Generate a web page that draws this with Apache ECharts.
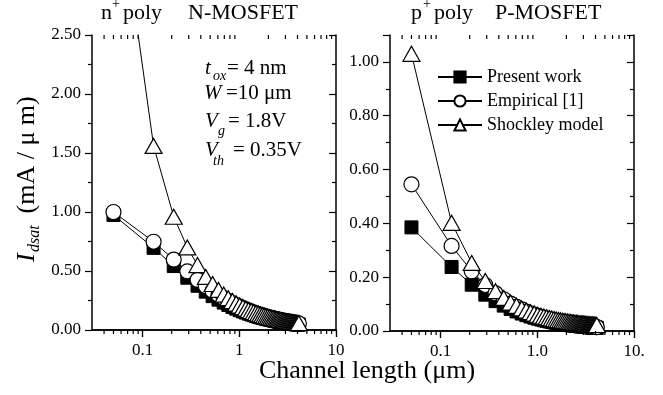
<!DOCTYPE html>
<html><head><meta charset="utf-8">
<script src="https://cdn.jsdelivr.net/npm/echarts@6/dist/echarts.min.js"></script>
<style>html,body{margin:0;padding:0;background:#fff}#c{width:663px;height:395px}</style>
</head><body><div id="c"></div>
<script>
// Channel lengths (µm)
const lengths = [0.05,0.13,0.21,0.29,0.37,0.45,0.53,0.61,0.69,0.77,0.85,0.93,1.01,1.09,1.17,1.25,1.33,1.41,1.49,1.57,1.65,1.73,1.81,1.89,1.97,2.05,2.13,2.21,2.29,2.37,2.45,2.53,2.61,2.69,2.77,2.85,2.93,3.01,3.09,3.17,3.25,3.33,3.41,3.49,3.57,3.65,3.73,3.81,3.89,3.97,4.05,4.13];
// N-MOSFET (mA/µm)
const nPresent = [0.975,0.696,0.542,0.443,0.375,0.325,0.287,0.257,0.232,0.212,0.195,0.181,0.168,0.157,0.148,0.139,0.132,0.125,0.119,0.113,0.108,0.104,0.0995,0.0956,0.092,0.0886,0.0855,0.0826,0.0799,0.0774,0.075,0.0728,0.0707,0.0687,0.0668,0.065,0.0633,0.0617,0.0602,0.0587,0.0574,0.056,0.0548,0.0536,0.0524,0.0513,0.0503,0.0492,0.0483,0.0473,0.0464,0.0456];
const nEmpirical = [1.0,0.748,0.597,0.497,0.425,0.372,0.331,0.297,0.27,0.248,0.229,0.212,0.198,0.186,0.175,0.165,0.156,0.148,0.141,0.135,0.129,0.124,0.119,0.114,0.11,0.106,0.102,0.0988,0.0957,0.0927,0.0898,0.0872,0.0847,0.0824,0.0801,0.078,0.076,0.0743,0.0723,0.0706,0.069,0.0674,0.0659,0.0645,0.0631,0.0618,0.0605,0.0593,0.0581,0.057,0.0559,0.0549];
const nShockley = [4.01,1.56,0.96,0.70,0.55,0.45,0.39,0.34,0.30,0.27,0.245,0.225,0.208,0.193,0.181,0.17,0.16,0.152,0.144,0.137,0.131,0.126,0.12,0.116,0.112,0.108,0.104,0.1,0.097,0.094,0.092,0.089,0.087,0.084,0.082,0.08,0.078,0.076,0.075,0.073,0.072,0.07,0.069,0.067,0.066,0.065,0.064,0.062,0.061,0.06,0.059,0.058];
// P-MOSFET (mA/µm)
const pPresent = [0.385,0.238,0.172,0.135,0.111,0.0943,0.082,0.0725,0.0649,0.0588,0.0538,0.0495,0.0459,0.0427,0.04,0.0376,0.0355,0.0336,0.0318,0.0303,0.0289,0.0276,0.0265,0.0254,0.0244,0.0235,0.0226,0.0218,0.0211,0.0204,0.0198,0.0192,0.0186,0.0181,0.0175,0.0171,0.0166,0.0162,0.0158,0.0154,0.015,0.0147,0.0143,0.014,0.0137,0.0134,0.0131,0.0129,0.0126,0.0124,0.0121,0.0119];
const pEmpirical = [0.545,0.316,0.222,0.171,0.14,0.118,0.102,0.0896,0.08,0.0723,0.0659,0.0606,0.0561,0.0522,0.0488,0.0458,0.0432,0.0408,0.0387,0.0368,0.0351,0.0335,0.0321,0.0308,0.0296,0.0284,0.0274,0.0264,0.0255,0.0247,0.0239,0.0232,0.0225,0.0218,0.0212,0.0206,0.0201,0.0195,0.019,0.0186,0.0181,0.0177,0.0173,0.0169,0.0165,0.0162,0.0158,0.0155,0.0152,0.0149,0.0146,0.0143];
const pShockley = [1.03,0.402,0.253,0.186,0.148,0.123,0.106,0.0936,0.0839,0.0762,0.07,0.0648,0.0605,0.0568,0.0536,0.0508,0.0483,0.0462,0.0442,0.0425,0.0409,0.0395,0.0382,0.037,0.0359,0.0349,0.0339,0.0331,0.0323,0.0315,0.0308,0.0302,0.0295,0.029,0.0284,0.0279,0.0274,0.0269,0.0265,0.0261,0.0257,0.0253,0.025,0.0246,0.0243,0.024,0.0237,0.0234,0.0231,0.0228,0.0226,0.0223];
// Axis ticks
const xMajorTicks = [0.1, 1, 10];
const xMinorTicks = [0.04,0.05,0.06,0.07,0.08,0.09,0.2,0.3,0.4,0.5,0.6,0.7,0.8,0.9,2,3,4,5,6,7,8,9];
const nXLabels = ['0.1', '1', '10'];
const pXLabels = ['0.1', '1.0', '10.'];
const seriesNames = ['Present work', 'Empirical [1]', 'Shockley model'];

const FONT = '"Liberation Serif", "Times New Roman", serif';
const black = '#000';

function xAxesFor(gridIndex, labels) {
  const base = { type: 'log', logBase: 10, min: 0.03, max: 10, gridIndex: gridIndex, splitLine: { show: false },
    axisLine: { show: true, lineStyle: { color: black, width: 1.5 } } };
  return [
    Object.assign({}, base, {
      position: 'bottom',
      axisTick: { show: true, customValues: xMajorTicks, length: 7, inside: false, lineStyle: { color: black, width: 1.2 } },
      axisLabel: { show: true, customValues: xMajorTicks, margin: 12, color: black, fontFamily: FONT, fontSize: 17,
        formatter: function (v) { const i = xMajorTicks.findIndex(t => Math.abs(t - v) < 1e-9); return i >= 0 ? labels[i] : ''; } }
    }),
    Object.assign({}, base, {
      position: 'top',
      axisTick: { show: true, customValues: xMajorTicks, length: 7, inside: true, lineStyle: { color: black, width: 1.2 } },
      axisLabel: { show: false, customValues: xMajorTicks }
    })
  ];
}

function yAxesFor(gridIndex, max, interval, showMax) {
  return [
    { type: 'value', gridIndex: gridIndex, min: 0, max: max, interval: interval, position: 'left',
      splitLine: { show: false },
      axisLine: { show: true, lineStyle: { color: black, width: 1.5 } },
      axisTick: { show: true, length: 7, inside: false, lineStyle: { color: black, width: 1.2 } },
      minorTick: { show: true, splitNumber: 2, length: 4, lineStyle: { color: black, width: 1.2 } },
      axisLabel: { margin: 11, color: black, fontFamily: FONT, fontSize: 17, showMaxLabel: showMax, formatter: v => v.toFixed(2) } },
    { type: 'value', gridIndex: gridIndex, min: 0, max: max, interval: interval, position: 'right',
      splitLine: { show: false },
      axisLine: { show: true, lineStyle: { color: black, width: 1.5 } },
      axisTick: { show: true, length: 7, inside: true, lineStyle: { color: black, width: 1.2 } },
      minorTick: { show: true, splitNumber: 2, length: 4, lineStyle: { color: black, width: 1.2 } },
      axisLabel: { show: false } }
  ];
}

const styles = [
  { symbol: 'rect', symbolSize: 13, itemStyle: { color: black, borderColor: black, borderWidth: 1 } },
  { symbol: 'circle', symbolSize: 15, itemStyle: { color: '#fff', borderColor: black, borderWidth: 1.2 } },
  { symbol: 'triangle', symbolSize: [17, 15], itemStyle: { color: '#fff', borderColor: black, borderWidth: 1.2 } }
];

function mkSeries(name, arr, xi, yi, st, z) {
  return Object.assign({
    name: name, type: 'line', xAxisIndex: xi, yAxisIndex: yi, z: z,
    data: lengths.map((x, i) => [x, arr[i]]),
    lineStyle: { color: black, width: 1 },
    emphasis: { disabled: true },
    clip: true
  }, st);
}

// Minor log ticks (bottom outward, top inward), positioned through the axis scale
function minorTickSeries(xi, yi) {
  return {
    type: 'custom', name: 'minor-ticks', xAxisIndex: xi, yAxisIndex: yi, silent: true, clip: false, z: 10,
    data: xMinorTicks.map(v => [v, 0]),
    renderItem: function (params, api) {
      const p = api.coord([api.value(0), 0]);
      const cs = params.coordSys;
      const st = { stroke: black, lineWidth: 1.2 };
      return { type: 'group', children: [
        { type: 'line', shape: { x1: p[0], y1: cs.y + cs.height, x2: p[0], y2: cs.y + cs.height + 4 }, style: st },
        { type: 'line', shape: { x1: p[0], y1: cs.y, x2: p[0], y2: cs.y + 4 }, style: st }
      ] };
    }
  };
}

const series = [
  mkSeries(seriesNames[0], nPresent, 0, 0, styles[0], 2),
  mkSeries(seriesNames[1], nEmpirical, 0, 0, styles[1], 3),
  mkSeries(seriesNames[2], nShockley, 0, 0, styles[2], 4),
  mkSeries(seriesNames[0], pPresent, 2, 2, styles[0], 2),
  mkSeries(seriesNames[1], pEmpirical, 2, 2, styles[1], 3),
  mkSeries(seriesNames[2], pShockley, 2, 2, styles[2], 4),
  minorTickSeries(0, 0),
  minorTickSeries(2, 2)
];

function txt(x, y, text, size, italic, align) {
  return { type: 'text', x: x, y: y, silent: true,
    style: { text: text, fill: black, font: (italic ? 'italic ' : '') + size + 'px ' + FONT,
      textAlign: align || 'left', textVerticalAlign: 'middle' } };
}

const graphics = [
  // Titles
  txt(101, 13, 'n', 22, false), txt(112, 4, '+', 14, false), txt(123, 13, 'poly', 22, false), txt(188, 13, 'N-MOSFET', 22, false),
  txt(411, 13, 'p', 22, false), txt(423, 4, '+', 14, false), txt(434, 13, 'poly', 22, false), txt(495, 13, 'P-MOSFET', 22, false),
  // Annotation
  txt(205, 68, 't', 21, true), txt(213, 76, 'ox', 14, true), txt(227, 68, '= 4 nm', 21, false),
  txt(204, 93, 'W', 21, true), txt(226, 93, '=10 μm', 21, false),
  txt(205, 121, 'V', 21, true), txt(218, 131, 'g', 14, true), txt(228, 121, '= 1.8V', 21, false),
  txt(205, 150, 'V', 21, true), txt(213, 161, 'th', 14, true), txt(233, 150, '= 0.35V', 21, false),
  // X axis title
  txt(367, 371, 'Channel length (μm)', 26, false, 'center'),
  // Y axis title (rotated)
  { type: 'group', x: 27, y: 262, rotation: Math.PI / 2, children: [
      txt(0, 0, 'I', 26, true), txt(10, 8, 'dsat', 16, true), txt(42, 0, ' (mA / μ m)', 26, false)
  ] }
];

const chart = echarts.init(document.getElementById('c'), null, { renderer: 'canvas' });
chart.setOption({
  animation: false,
  backgroundColor: '#fff',
  grid: [
    { left: 92, top: 35, width: 244, height: 295 },
    { left: 390, top: 35, width: 244, height: 296 }
  ],
  xAxis: xAxesFor(0, nXLabels).concat(xAxesFor(1, pXLabels)),
  yAxis: yAxesFor(0, 2.5, 0.5, true).concat(yAxesFor(1, 1.1, 0.2, false)),
  legend: {
    data: seriesNames, orient: 'vertical', left: 432, top: 63, itemGap: 6,
    itemWidth: 44, itemHeight: 14, selectedMode: false,
    textStyle: { fontFamily: FONT, fontSize: 18, color: black }
  },
  series: series,
  graphic: graphics
});
</script>
</body></html>
